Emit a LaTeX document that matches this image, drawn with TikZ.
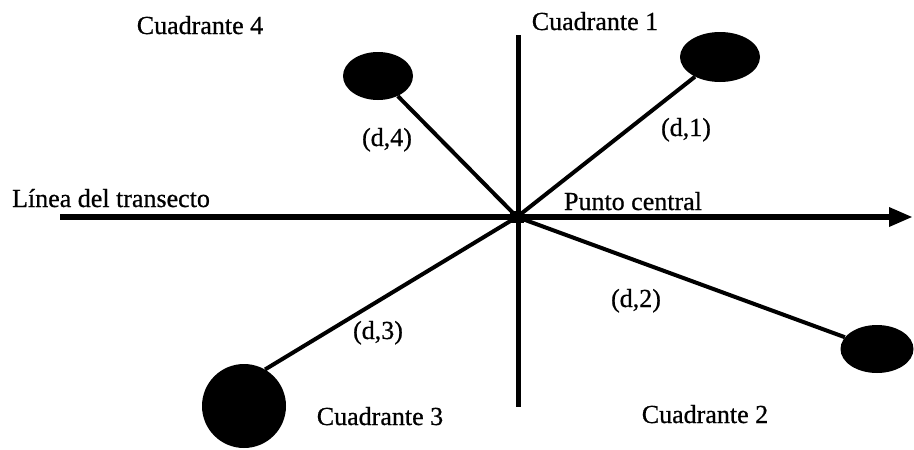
\documentclass[tikz,border=0pt]{standalone}
\usepackage{fontspec}
\setmainfont{Liberation Serif}
\newfontfamily\scanfont[FakeBold=0.7]{Liberation Serif}
\usetikzlibrary{arrows.meta,shapes.geometric}

\begin{document}
\begin{tikzpicture}[x=1pt,y=-1pt,
  lbl/.style={font=\scanfont\fontsize{26}{30}\selectfont,inner sep=0pt,anchor=base},
  spot/.style={ellipse,fill=black,inner sep=0pt},
  arm/.style={line width=4pt}]

\useasboundingbox (0,0) rectangle (914,450);

%=== Transect line and the cross line
\coordinate (tl) at (60,217);
\coordinate (tr) at (913,217);
\coordinate (vt) at (518,35);
\coordinate (vb) at (518,407);
\draw[line width=6pt,-{Triangle[length=24pt,width=18pt]}] (tl) -- (tr);
\draw[line width=5pt] (vt) -- (vb);

% Central point
\node[fill=black,minimum width=14pt,minimum height=12pt,inner sep=0pt] (pc) at (517,217) {};

%=== Nearest plant in each quadrant
\node[spot,minimum width=80pt,minimum height=50pt] (s1) at (720,57) {};
\node[spot,minimum width=73pt,minimum height=48pt] (s2) at (877,349) {};
\node[circle,fill=black,inner sep=0pt,minimum size=84pt] (s3) at (244,406) {};
\node[spot,minimum width=70pt,minimum height=48pt] (s4) at (378,76) {};

% Distances from the central point
\draw[arm] (pc.center) -- (s1);
\draw[arm] (pc.center) -- (s2);
\draw[arm] (pc.center) -- (s3.60);
\draw[arm] (pc.center) -- (s4);

%=== Labels
\node[lbl] (q1) at (595,30) {Cuadrante 1};
\node[lbl] (q2) at (705,423) {Cuadrante 2};
\node[lbl] (q3) at (380,425) {Cuadrante 3};
\node[lbl] (q4) at (200,34) {Cuadrante 4};
\node[lbl] (d1) at (686,136) {(d,1)};
\node[lbl] (d2) at (636,307) {(d,2)};
\node[lbl] (d3) at (378,339) {(d,3)};
\node[lbl] (d4) at (387,146) {(d,4)};
\node[lbl] (lt) at (111,207) {Línea del transecto};
\node[lbl] (pt) at (633,210) {Punto central};

\end{tikzpicture}
\end{document}
